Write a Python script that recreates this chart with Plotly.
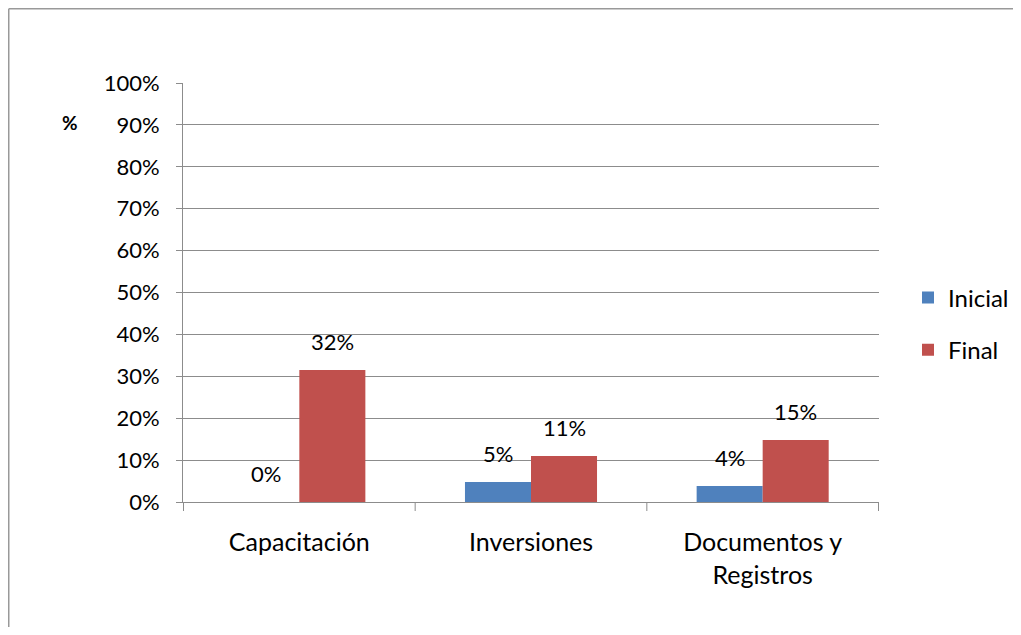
import plotly.graph_objects as go

categories = ["Capacitación", "Inversiones", "Documentos y<br>Registros"]
inicial = [0.0, 0.048, 0.038]
final = [0.315, 0.110, 0.148]
series_names = ["Inicial", "Final"]
colors = ["#4F81BD", "#C0504D"]
yticks = [i / 10 for i in range(11)]
ytick_labels = [f"{int(v*100)}%" for v in yticks]

FONT = "Lato, Open Sans, sans-serif"
OFF = 8  # page body margin
W, H = 1013, 619
L, T = 183 - OFF, 83 - OFF
R = W - (879 - OFF)
B = H - (502 - OFF)
PW, PH = W - L - R, H - T - B

fig = go.Figure()
for name, vals, col in zip(series_names, [inicial, final], colors):
    fig.add_trace(go.Bar(
        name=name, x=categories, y=vals, marker_color=col,
        marker_line_width=0, legendgroup=name,
    ))

# data labels
for vals, shift in [(inicial, -33), (final, 33)]:
    for c, v in zip(categories, vals):
        fig.add_annotation(
            x=c, y=v, xref="x", yref="y", text=f"{round(v*100):.0f}%",
            showarrow=False, xshift=shift, yshift=13, yanchor="bottom",
            xanchor="center",
            font=dict(family=FONT, size=22, color="#000"),
        )

# "%" axis label
fig.add_annotation(
    x=(70 - OFF - L) / PW, y=1 - (122 - OFF - T) / PH,
    xref="paper", yref="paper", text="<b>%</b>", showarrow=False,
    xanchor="center", yanchor="middle",
    font=dict(family=FONT, size=19, color="#000"),
)

# outer frame lines (left and top)
fx0 = (0.75 - L) / PW
fx1 = (W + 5 - L) / PW
fy_top = 1 + (T - 0.75) / PH
fy_bot = -(H + 5 - (H - B)) / PH
fig.add_shape(type="line", xref="paper", yref="paper", x0=fx0, x1=fx0,
              y0=fy_bot, y1=fy_top, line=dict(color="#999", width=1.5))
fig.add_shape(type="line", xref="paper", yref="paper", x0=fx0, x1=fx1,
              y0=fy_top, y1=fy_top, line=dict(color="#999", width=1.5))

fig.update_layout(
    width=W, height=H,
    margin=dict(l=L, r=R, t=T, b=B, autoexpand=False),
    paper_bgcolor="white", plot_bgcolor="white",
    barmode="group", bargap=0.43, bargroupgap=0,
    font=dict(family=FONT, size=22, color="#000"),
    showlegend=True,
    legend=dict(x=(908 - OFF - L) / PW, y=1 - (324 - OFF - T) / PH,
                xanchor="left", yanchor="middle",
                font=dict(family=FONT, size=24), tracegroupgap=18,
                traceorder="grouped", itemwidth=30),
    yaxis=dict(range=[0, 1], tickvals=yticks, ticktext=ytick_labels,
               showgrid=True, gridcolor="#8c8c8c", gridwidth=1,
               showline=True, linecolor="#8c8c8c", linewidth=1,
               ticks="outside", ticklen=6, tickcolor="#8c8c8c",
               zeroline=False, fixedrange=True, ticklabelstandoff=12,
               tickfont=dict(size=22)),
    xaxis=dict(showline=True, linecolor="#8c8c8c", linewidth=1,
               ticks="", showgrid=False, fixedrange=True,
               tickfont=dict(size=25), ticklabelstandoff=18),
)

# category divider ticks on x axis
for i in range(4):
    fig.add_shape(type="line", xref="x", yref="paper", x0=i - 0.5, x1=i - 0.5,
                  y0=0, y1=-9 / PH, line=dict(color="#8c8c8c", width=1))

fig.write_html("out.html")
